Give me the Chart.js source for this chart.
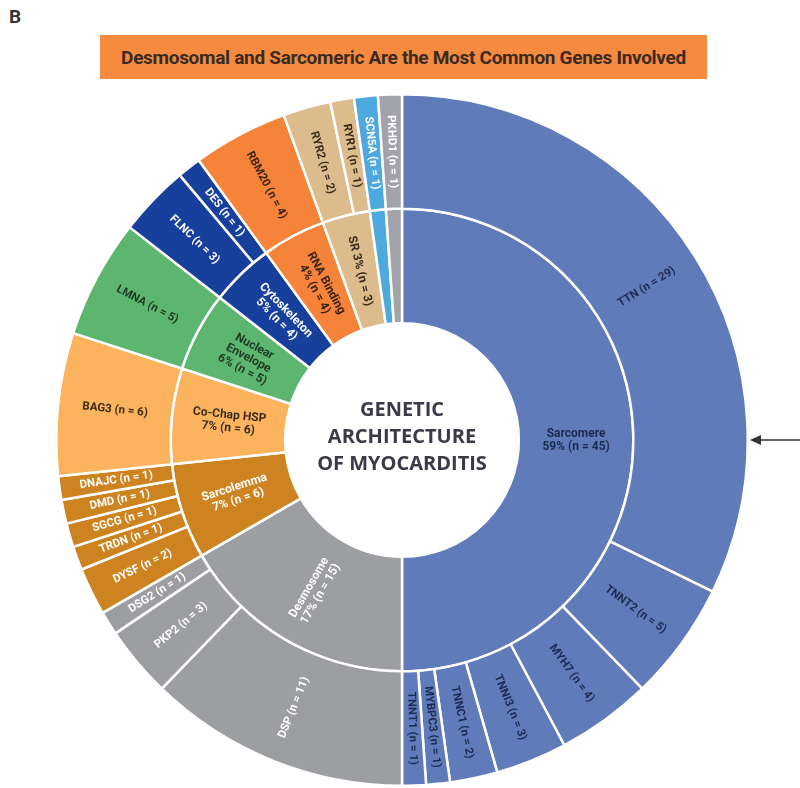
<!DOCTYPE html>
<html>
<head>
<meta charset="utf-8">
<script src="https://cdn.jsdelivr.net/npm/chart.js@4/dist/chart.umd.min.js"></script>
<style>
  body { margin: 0; background: #fff; width: 800px; height: 788px; position: relative; overflow: hidden; font-family: 'Open Sans', Roboto, sans-serif; }
  .panel-letter { position: absolute; left: 9px; top: 5px; font: bold 19px Roboto, sans-serif; color: #333; }
  .banner { position: absolute; left: 100px; top: 35px; width: 607px; height: 44px; background: #f68b3f; display: flex; align-items: center; justify-content: center; }
  .banner span { font: bold 19px Roboto, sans-serif; color: #3b2a22; letter-spacing: -0.3px; white-space: nowrap; }
  #wrap { position: absolute; left: 55px; top: 93px; width: 694px; height: 694px; }
  .center-title { position: absolute; left: 282px; top: 395px; width: 240px; text-align: center; font: 700 20px/27px 'Open Sans', sans-serif; color: #3a3a48; }
  svg.arrow { position: absolute; left: 750px; top: 432px; }
</style>
</head>
<body>
<div class="panel-letter">B</div>
<div class="banner"><span>Desmosomal and Sarcomeric Are the Most Common Genes Involved</span></div>
<div id="wrap"><canvas id="sunburst" width="694" height="694"></canvas></div>
<div class="center-title">GENETIC<br>ARCHITECTURE<br>OF MYOCARDITIS</div>
<svg class="arrow" width="50" height="16"><line x1="8" y1="8" x2="50" y2="8" stroke="#333" stroke-width="1.6"/><polygon points="0,8 11,3 11,13" fill="#333"/></svg>

<script>
// inner ring: gene groups
const groups = ['Sarcomere', 'Desmosome', 'Sarcolemma', 'Co-Chap HSP', 'Nuclear Envelope', 'Cytoskeleton', 'RNA Binding', 'SR', 'Ion channel', 'Other'];
const groupCounts = [45, 15, 6, 6, 5, 4, 4, 3, 1, 1];
const groupLabels = [
  ['Sarcomere', '59% (n = 45)'],
  ['Desmosome', '17% (n = 15)'],
  ['Sarcolemma', '7% (n = 6)'],
  ['Co-Chap HSP', '7% (n = 6)'],
  ['Nuclear', 'Envelope', '6% (n = 5)'],
  ['Cytoskeleton', '5% (n = 4)'],
  ['RNA Binding', '4% (n = 4)'],
  ['SR 3% (n = 3)'],
  [],
  []
];

// outer ring: genes, with index of their group
const genes = ['TTN', 'TNNT2', 'MYH7', 'TNNI3', 'TNNC1', 'MYBPC3', 'TNNT1',
  'DSP', 'PKP2', 'DSG2',
  'DYSF', 'TRDN', 'SGCG', 'DMD', 'DNAJC',
  'BAG3', 'LMNA', 'FLNC', 'DES', 'RBM20', 'RYR2', 'RYR1', 'SCN5A', 'PKHD1'];
const geneCounts = [29, 5, 4, 3, 2, 1, 1, 11, 3, 1, 2, 1, 1, 1, 1, 6, 5, 3, 1, 4, 2, 1, 1, 1];
const geneGroup = [0, 0, 0, 0, 0, 0, 0, 1, 1, 1, 2, 2, 2, 2, 2, 3, 4, 5, 5, 6, 7, 7, 8, 9];

const groupColors = ['#5f7bb9', '#9d9ea2', '#cd8420', '#fbb45d', '#5db66f', '#173f9c', '#f5833a', '#dcbb8c', '#4ea9df', '#a3a3ab'];
const groupTextColors = ['#1d2b52', '#fff', '#fff', '#3a2a1a', '#1d3a22', '#fff', '#3a2215', '#3a2a1a', '#fff', '#fff'];

const geneColors = geneGroup.map(g => groupColors[g]);
const geneTextColors = geneGroup.map(g => groupTextColors[g]);
const geneLabels = genes.map((g, i) => [g + ' (n = ' + geneCounts[i] + ')']);

const labelFonts = ["bold 11.5px Roboto, sans-serif", "bold 12px Roboto, sans-serif"];
const labelTexts = [geneLabels, groupLabels];
const labelColors = [geneTextColors, groupTextColors];

const arcLabels = {
  id: 'arcLabels',
  afterDatasetsDraw(chart) {
    const ctx = chart.ctx;
    chart.data.datasets.forEach((ds, di) => {
      chart.getDatasetMeta(di).data.forEach((arc, i) => {
        const lines = labelTexts[di][i];
        if (!lines || !lines.length) return;
        const p = arc.getProps(['x', 'y', 'startAngle', 'endAngle', 'innerRadius', 'outerRadius'], true);
        const a = (p.startAngle + p.endAngle) / 2;
        const r = (p.innerRadius + p.outerRadius) / 2;
        ctx.save();
        ctx.translate(p.x + Math.cos(a) * r, p.y + Math.sin(a) * r);
        ctx.rotate(Math.cos(a) < -1e-6 ? a + Math.PI : a);
        ctx.font = labelFonts[di];
        ctx.fillStyle = labelColors[di][i];
        ctx.textAlign = 'center';
        ctx.textBaseline = 'middle';
        const lh = 13;
        lines.forEach((ln, k) => ctx.fillText(ln, 0, (k - (lines.length - 1) / 2) * lh));
        ctx.restore();
      });
    });
  }
};

new Chart(document.getElementById('sunburst'), {
  type: 'doughnut',
  data: {
    labels: genes,
    datasets: [{
      label: 'Genes',
      data: geneCounts,
      backgroundColor: geneColors,
      borderColor: '#fff',
      borderWidth: 2.5
    }, {
      label: 'Groups',
      data: groupCounts,
      backgroundColor: groupColors,
      borderColor: '#fff',
      borderWidth: 2.5
    }]
  },
  options: {
    responsive: false,
    animation: false,
    cutout: '33.8%',
    layout: { padding: 0 },
    plugins: {
      legend: { display: false },
      tooltip: { enabled: false }
    }
  },
  plugins: [arcLabels]
});
</script>
</body>
</html>
